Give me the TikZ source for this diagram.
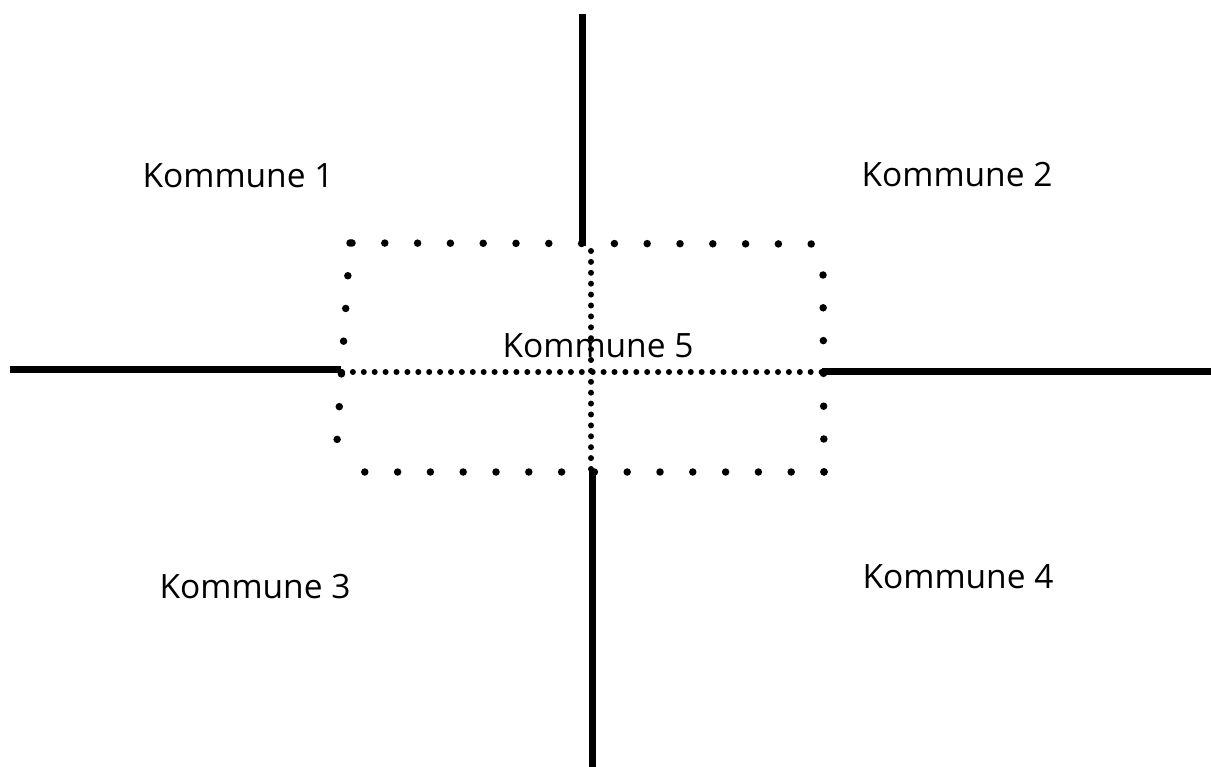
\documentclass[tikz,border=0pt]{standalone}
\usepackage{fontspec}
\setmainfont{Open Sans}
\begin{document}
\begin{tikzpicture}[x=1pt,y=-1pt,
  border/.style={line width=7pt},
  dotline/.style={line width=7.5pt,line cap=round,dash pattern=on 0pt off 32.8pt},
  finedots/.style={line width=6pt,line cap=round,dash pattern=on 0pt off 10.9pt},
  label/.style={font=\fontsize{33.5}{40}\selectfont,inner sep=0pt,text=black,anchor=base}]
\useasboundingbox (0,0) rectangle (1211,767);
% solid borders
\draw[border] (582,14) -- (582,246);
\draw[border] (592,470) -- (592,767);
\draw[border] (10,370) -- (341,370);
\draw[border] (822,372) -- (1211,372);
% dotted rectangle (Kommune 5)
\draw[dotline] (352,243) -- (812.5,244);
\draw[dotline] (823,275) -- (824,472);
\draw[dotline] (824,472) -- (335,472);
\draw[dotline] (350,243) -- (335,472);
% dotted inner lines
\draw[finedots] (342,372) -- (822,372);
\draw[finedots] (591,251) -- (591,470);
% labels
\node[label] (k1) at (238,188) {Kommune 1};
\node[label] (k2) at (957,187) {Kommune 2};
\node[label] (k5) at (598,358) {Kommune 5};
\node[label] (k3) at (255,598) {Kommune 3};
\node[label] (k4) at (958,588) {Kommune 4};
\end{tikzpicture}
\end{document}
